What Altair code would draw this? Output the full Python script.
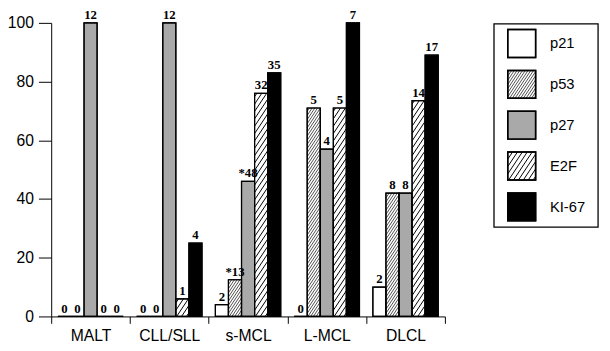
import altair as alt
import pandas as pd

# ---- data ----
categories = ["MALT", "CLL/SLL", "s-MCL", "L-MCL", "DLCL"]
series = ["p21", "p53", "p27", "E2F", "KI-67"]

p21 = [0, 0, 4, 0, 10]
p53 = [0, 0, 12.5, 71, 42]
p27 = [100, 100, 46, 57, 42]
e2f = [0, 6, 76, 71, 73.5]
ki67 = [0, 25, 83, 100, 89]

p21_n = ["0", "0", "2", "0", "2"]
p53_n = ["0", "0", "*13", "5", "8"]
p27_n = ["12", "12", "*48", "4", "8"]
e2f_n = ["0", "1", "32", "5", "14"]
ki67_n = ["0", "4", "35", "7", "17"]

y_ticks = [0, 20, 40, 60, 80, 100]
fills = ["white", "white", "#a9a9a9", "white", "black"]

rows = []
for si, (s, vals, labs) in enumerate(zip(series, [p21, p53, p27, e2f, ki67],
                                         [p21_n, p53_n, p27_n, e2f_n, ki67_n])):
    for gi, c in enumerate(categories):
        rows.append({"category": c, "gi": gi, "series": s, "si": si,
                     "value": vals[gi], "label": labs[gi]})
df = pd.DataFrame(rows)

# ---- layout / style ----
W, H = 401, 299
SX, SY = W / 5, H / 100
BW = 0.166
K = 1.5
SP_EXPR = "datum.series == 'p53' ? 4.2 : 7.5"
SW_EXPR = "datum.series == 'p53' ? 0.7 : 1.0"
SANS = "Liberation Sans"
SERIF = "Liberation Serif"

# legend box placement, in pixels relative to the plot area
LEG_X0, LEG_W = 451, 106
LEG_Y0, LEG_H = 1, 207
LEG_PITCH, LEG_FIRST, LEG_HALF = 41.6, 20, 14.2
LEG_SYM_X, LEG_TXT_X = 14, 57


def with_hatch(chart, xa, ya, wpx, hpx, sx, sy, ysign):
    return (chart
            .transform_filter("datum.series == 'p53' || datum.series == 'E2F'")
            .transform_calculate(sp=SP_EXPR, sw=SW_EXPR, hw=wpx, hh=hpx, hxa=xa, hya=ya)
            .transform_calculate(cs=f"sequence(-{K}*datum.hw + datum.sp/2, datum.hh, datum.sp)")
            .transform_flatten(["cs"])
            .transform_calculate(u0=f"max(0, -datum.cs/{K})",
                                 u1=f"min(datum.hw, (datum.hh - datum.cs)/{K})")
            .transform_filter("datum.u1 > datum.u0")
            .transform_calculate(
                hx1=f"datum.hxa + datum.u0/{sx}",
                hx2=f"datum.hxa + datum.u1/{sx}",
                hy1=f"datum.hya + ({ysign})*({K}*datum.u0 + datum.cs)/{sy}",
                hy2=f"datum.hya + ({ysign})*({K}*datum.u1 + datum.cs)/{sy}",
            ))


label_arr = "[" + ",".join(f"'{c}'" for c in categories) + "]"
xaxis = alt.Axis(
    values=[i * 0.5 for i in range(11)],
    labelExpr=f"datum.value % 1 != 0 ? {label_arr}[floor(datum.value)] : ''",
    tickOpacity={"condition": {"test": "datum.value % 1 != 0", "value": 0}, "value": 1},
    tickSize=7, labelPadding=5, labelFontSize=16, labelFont=SANS, labelColor="black",
    domainColor="black", tickColor="black", grid=False, title=None,
    labelOverlap=False, labelFlush=False,
)
yaxis = alt.Axis(values=y_ticks, tickSize=13, labelPadding=5, labelFontSize=16,
                 labelFont=SANS, labelColor="black", domainColor="black",
                 tickColor="black", grid=False, title=None)
xscale = alt.Scale(domain=[0, 5], nice=False, zero=False)
yscale = alt.Scale(domain=[0, 100], nice=False)
fscale = alt.Scale(domain=series, range=fills)

base = alt.Chart(df).transform_calculate(
    xa=f"datum.gi + 0.5 + (datum.si - 2.5)*{BW}",
    xb=f"datum.gi + 0.5 + (datum.si - 1.5)*{BW}",
    xc=f"datum.gi + 0.5 + (datum.si - 2)*{BW}",
    y0="0",
)

bars = base.mark_rect(stroke="black", strokeWidth=1.2).encode(
    x=alt.X("xa:Q", scale=xscale, axis=xaxis),
    x2="xb:Q",
    y=alt.Y("value:Q", scale=yscale, axis=yaxis),
    y2="y0:Q",
    fill=alt.Fill("series:N", scale=fscale, legend=None),
)
hatch = with_hatch(base, "datum.xa", "0", f"{BW * SX}", f"datum.value*{SY}", SX, SY, 1).mark_rule(
    color="black").encode(
    x=alt.X("hx1:Q", scale=xscale, axis=xaxis),
    x2="hx2:Q",
    y=alt.Y("hy1:Q", scale=yscale, axis=yaxis),
    y2="hy2:Q",
    strokeWidth=alt.StrokeWidth("sw:Q", scale=None),
)
outline = base.mark_rect(fill="white", fillOpacity=0, stroke="black", strokeWidth=1.2).encode(
    x=alt.X("xa:Q", scale=xscale, axis=xaxis),
    x2="xb:Q",
    y=alt.Y("value:Q", scale=yscale, axis=yaxis),
    y2="y0:Q",
)
texts = base.mark_text(baseline="bottom", dy=-1, font=SERIF, fontWeight="bold",
                       fontSize=13, color="black").encode(
    x=alt.X("xc:Q", scale=xscale, axis=xaxis),
    y=alt.Y("value:Q", scale=yscale, axis=yaxis),
    text="label:N",
)
main = alt.layer(bars, hatch, outline, texts)

# ---- legend drawn beside the plot (own pixel-unit scales) ----
lx = alt.Scale(domain=[-LEG_X0, W - LEG_X0], nice=False, zero=False)
ly = alt.Scale(domain=[0, H], reverse=True, nice=False, zero=False)

leg_df = pd.DataFrame({"series": series, "k": list(range(len(series)))})
lbase = alt.Chart(leg_df).transform_calculate(
    yc=f"{LEG_Y0} + {LEG_FIRST} + datum.k*{LEG_PITCH}",
).transform_calculate(
    sx1=f"{LEG_SYM_X}", sx2=f"{LEG_SYM_X + 2 * LEG_HALF}",
    sy1=f"datum.yc - {LEG_HALF}", sy2=f"datum.yc + {LEG_HALF}",
    tx=f"{LEG_TXT_X}",
)
lrect = lbase.mark_rect(stroke="black", strokeWidth=1.5).encode(
    x=alt.X("sx1:Q", scale=lx, axis=None), x2="sx2:Q",
    y=alt.Y("sy1:Q", scale=ly, axis=None), y2="sy2:Q",
    fill=alt.Fill("series:N", scale=fscale, legend=None),
)
lhatch = with_hatch(lbase, "datum.sx1", "datum.sy2", "datum.sx2 - datum.sx1",
                    "datum.sy2 - datum.sy1", 1, 1, -1).mark_rule(color="black").encode(
    x=alt.X("hx1:Q", scale=lx, axis=None), x2="hx2:Q",
    y=alt.Y("hy1:Q", scale=ly, axis=None), y2="hy2:Q",
    strokeWidth=alt.StrokeWidth("sw:Q", scale=None),
)
loutline = lbase.mark_rect(fill="white", fillOpacity=0, stroke="black", strokeWidth=1.5).encode(
    x=alt.X("sx1:Q", scale=lx, axis=None), x2="sx2:Q",
    y=alt.Y("sy1:Q", scale=ly, axis=None), y2="sy2:Q",
)
ltext = lbase.mark_text(align="left", baseline="middle", font=SANS, fontSize=15,
                        color="black").encode(
    x=alt.X("tx:Q", scale=lx, axis=None),
    y=alt.Y("yc:Q", scale=ly, axis=None),
    text="series:N",
)
lframe = alt.Chart(pd.DataFrame({"frame": [0]})).transform_calculate(
    fx1="0", fx2=f"{LEG_W}", fy1=f"{LEG_Y0}", fy2=f"{LEG_Y0 + LEG_H}",
).mark_rect(fill="white", fillOpacity=0, stroke="black", strokeWidth=1.3).encode(
    x=alt.X("fx1:Q", scale=lx, axis=None), x2="fx2:Q",
    y=alt.Y("fy1:Q", scale=ly, axis=None), y2="fy2:Q",
)
legend = alt.layer(lframe, lrect, lhatch, loutline, ltext)

chart = alt.layer(main, legend).resolve_scale(x="independent", y="independent").properties(
    width=W, height=H,
    autosize=alt.AutoSizeParams(type="none"),
    padding={"left": 44, "top": 12, "right": 160, "bottom": 30},
    background="white",
).configure_view(strokeWidth=0)

chart.save("out.html", embed_options={"renderer": "svg", "actions": False})
